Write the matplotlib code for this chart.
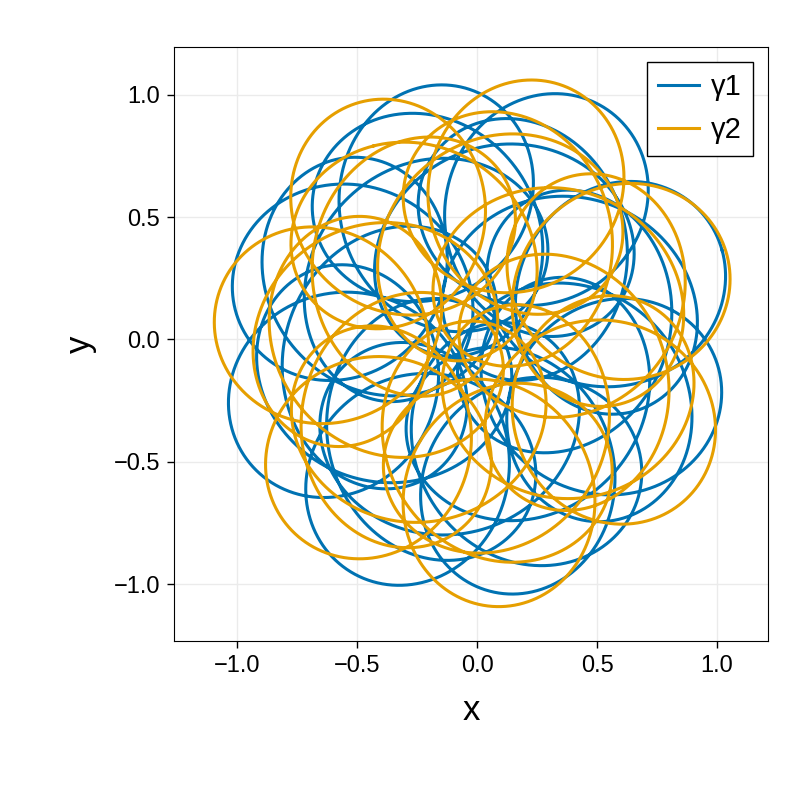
import numpy as np
import matplotlib
matplotlib.use("Agg")
import matplotlib.pyplot as plt
plt.rcParams['font.family'] = ['Liberation Sans', 'DejaVu Sans']

# curve parameters (three-circle epicycle curves)
r1 = [0.50, 0.51]
r2 = [0.44, 0.43]
r3 = [0.15, 0.16]
f2 = [23, 22]
f3 = [-7, -6]
phase = [0.3, 1.9]
labels = ["γ1", "γ2"]
colors = ["#0072B2", "#E69F00"]
t = np.linspace(0, 2*np.pi, 12000)

fig = plt.figure(figsize=(8, 8), dpi=100)
ax = fig.add_axes([174/800, 1-641/800, 594/800, 594/800])
for a, b, c3, g, h, p, lab, c in zip(r1, r2, r3, f2, f3, phase, labels, colors):
    z = a*np.exp(1j*(t+p)) + b*np.exp(1j*(g*t+p)) + c3*np.exp(1j*(h*t+2*p))
    ax.plot(z.real, z.imag, color=c, lw=2.2, label=lab)
ax.set_xlim(-1.2625, 1.2125)
ax.set_ylim(-1.233, 1.196)
ticks = [-1.0, -0.5, 0.0, 0.5, 1.0]
tl = ["−1.0", "−0.5", "0.0", "0.5", "1.0"]
ax.set_xticks(ticks, tl)
ax.set_yticks(ticks, tl)
ax.tick_params(labelsize=17, length=5, width=1, pad=5)
ax.grid(color="#ebebeb", lw=1)
ax.set_axisbelow(True)
ax.set_xlabel("x", fontsize=25, labelpad=12)
ax.set_ylabel("y", fontsize=25, labelpad=12)
leg = ax.legend(loc="upper right", fontsize=21, fancybox=False, edgecolor="black",
                handlelength=1.4, handletextpad=0.4, borderaxespad=0.5, framealpha=1)
leg.get_frame().set_linewidth(1)
fig.savefig("out.png")
